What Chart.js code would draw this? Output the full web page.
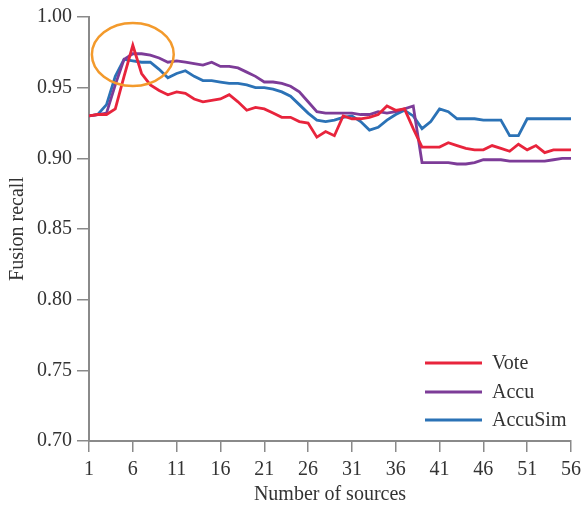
<!DOCTYPE html>
<html>
<head>
<meta charset="utf-8">
<script src="https://cdn.jsdelivr.net/npm/chart.js@4.4.0/dist/chart.umd.min.js"></script>
<style>
  html, body { margin: 0; padding: 0; background: #ffffff; }
  #wrap { width: 582px; height: 507px; }
</style>
</head>
<body>
<div id="wrap"><canvas id="c" width="582" height="507"></canvas></div>
<script>
const sources = [1,2,3,4,5,6,7,8,9,10,11,12,13,14,15,16,17,18,19,20,21,22,23,24,25,26,27,28,29,30,31,32,33,34,35,36,37,38,39,40,41,42,43,44,45,46,47,48,49,50,51,52,53,54,55,56];
const xTicks = [1,6,11,16,21,26,31,36,41,46,51,56];
const yTicks = [0.70,0.75,0.80,0.85,0.90,0.95,1.00];

const vote = [0.930,0.931,0.931,0.935,0.958,0.980,0.960,0.952,0.948,0.945,
              0.947,0.946,0.942,0.940,0.941,0.942,0.945,0.940,0.934,0.936,
              0.935,0.932,0.929,0.929,0.926,0.925,0.915,0.919,0.916,0.930,
              0.928,0.928,0.929,0.931,0.937,0.934,0.935,0.921,0.908,0.908,
              0.908,0.911,0.909,0.907,0.906,0.906,0.909,0.907,0.905,0.910,
              0.906,0.909,0.904,0.906,0.906,0.906];
const accu = [0.930,0.931,0.932,0.952,0.970,0.974,0.974,0.973,0.971,0.968,
              0.969,0.968,0.967,0.966,0.968,0.965,0.965,0.964,0.961,0.958,
              0.954,0.954,0.953,0.951,0.947,0.940,0.933,0.932,0.932,0.932,
              0.932,0.931,0.931,0.933,0.932,0.933,0.935,0.937,0.897,0.897,
              0.897,0.897,0.896,0.896,0.897,0.899,0.899,0.899,0.898,0.898,
              0.898,0.898,0.898,0.899,0.900,0.900];
const accuSim = [0.930,0.931,0.938,0.958,0.970,0.969,0.968,0.968,0.963,0.957,
                 0.960,0.962,0.958,0.955,0.955,0.954,0.953,0.953,0.952,0.950,
                 0.950,0.949,0.947,0.944,0.938,0.932,0.927,0.926,0.927,0.929,
                 0.930,0.926,0.920,0.922,0.927,0.931,0.934,0.930,0.921,0.926,
                 0.935,0.933,0.928,0.928,0.928,0.927,0.927,0.927,0.916,0.916,
                 0.928,0.928,0.928,0.928,0.928,0.928];

const seriesNames = ['Vote','Accu','AccuSim'];
const seriesColors = ['#e8243c','#7d3c98','#2b72b6'];
const highlight = { x: 6, y: 0.9735, rx: 4.67, ry: 0.0223, color: '#f39a2c' };

const FONT = 'Liberation Serif';
const TEXT = '#333333';
const AXIS = '#8a8a8a';

function pts(arr){ return sources.map((s,i)=>({x:s, y:arr[i]})); }

const ellipsePlugin = {
  id: 'ellipse',
  afterDatasetsDraw(chart){
    const xs = chart.scales.x, ys = chart.scales.y, ctx = chart.ctx;
    const cx = xs.getPixelForValue(highlight.x), cy = ys.getPixelForValue(highlight.y);
    const rx = Math.abs(xs.getPixelForValue(highlight.x + highlight.rx) - cx);
    const ry = Math.abs(ys.getPixelForValue(highlight.y + highlight.ry) - cy);
    ctx.save();
    ctx.beginPath();
    ctx.ellipse(cx, cy, rx, ry, 0, 0, Math.PI*2);
    ctx.strokeStyle = highlight.color;
    ctx.lineWidth = 2.5;
    ctx.stroke();
    ctx.restore();
  }
};

const legendPlugin = {
  id: 'innerLegend',
  afterDraw(chart){
    const ctx = chart.ctx, a = chart.chartArea;
    ctx.save();
    ctx.font = '20px "' + FONT + '"';
    ctx.textBaseline = 'middle';
    ctx.fillStyle = TEXT;
    const offs = [78, 49, 21];
    chart.data.datasets.forEach((ds, i) => {
      const y = a.bottom - offs[i];
      ctx.beginPath();
      ctx.moveTo(a.right - 146, y);
      ctx.lineTo(a.right - 89, y);
      ctx.strokeStyle = ds.borderColor;
      ctx.lineWidth = 3;
      ctx.stroke();
      ctx.fillText(ds.label, a.right - 79, y + 1);
    });
    ctx.restore();
  }
};

new Chart(document.getElementById('c'), {
  type: 'line',
  data: {
    datasets: [
      { label: seriesNames[0], data: pts(vote), borderColor: seriesColors[0] },
      { label: seriesNames[1], data: pts(accu), borderColor: seriesColors[1] },
      { label: seriesNames[2], data: pts(accuSim), borderColor: seriesColors[2] }
    ].map(d => Object.assign(d, { borderWidth: 2.8, pointRadius: 0, tension: 0, fill: false }))
  },
  options: {
    responsive: false,
    animation: false,
    layout: { padding: { top: 17, right: 11, left: 0, bottom: 0 } },
    plugins: { legend: { display: false }, tooltip: { enabled: false } },
    scales: {
      x: {
        type: 'linear', min: 1, max: 56,
        afterBuildTicks: s => { s.ticks = xTicks.map(v => ({ value: v })); },
        afterFit: s => { s.height = 66; s.paddingLeft = 0; s.paddingRight = 0; },
        grid: { drawOnChartArea: false, drawTicks: true, tickLength: 11, color: AXIS, lineWidth: 1.5 },
        border: { display: true, color: AXIS, width: 2 },
        ticks: { color: TEXT, font: { family: FONT, size: 20 }, padding: 6, maxRotation: 0, autoSkip: false },
        title: { display: true, text: 'Number of sources', color: TEXT, font: { family: FONT, size: 20 }, padding: { top: 0, bottom: 0 } }
      },
      y: {
        type: 'linear', min: 0.70, max: 1.00,
        afterBuildTicks: s => { s.ticks = yTicks.map(v => ({ value: v })); },
        afterFit: s => { s.width = 89; s.paddingTop = 0; s.paddingBottom = 0; },
        grid: { drawOnChartArea: false, drawTicks: true, tickLength: 12, color: AXIS, lineWidth: 1.5 },
        border: { display: true, color: AXIS, width: 2 },
        ticks: { color: TEXT, font: { family: FONT, size: 20 }, padding: 5, callback: v => v.toFixed(2) },
        title: { display: true, text: 'Fusion recall', color: TEXT, font: { family: FONT, size: 20 }, padding: { top: 6, bottom: 0 } }
      }
    }
  },
  plugins: [ellipsePlugin, legendPlugin]
});
</script>
</body>
</html>
